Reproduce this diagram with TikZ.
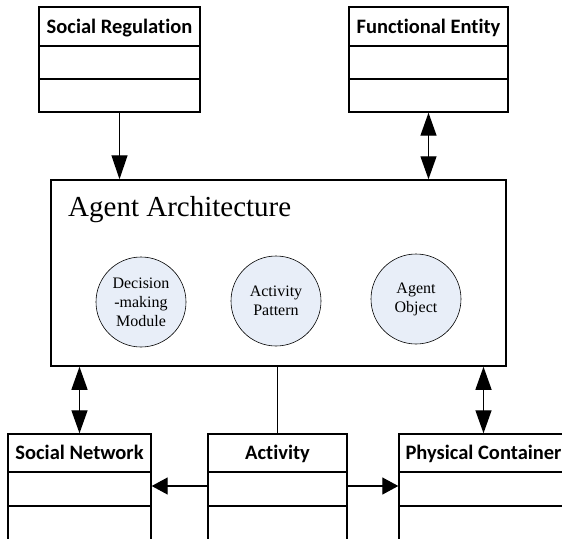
\documentclass[tikz,border=0pt]{standalone}
\usepackage{fontspec}
\newfontfamily\hdrfont{Carlito}[Ligatures=NoCommon]
\newfontfamily\serffont{Liberation Serif}
\usetikzlibrary{arrows.meta}
\definecolor{circfill}{RGB}{232,238,248}
\begin{document}
\begin{tikzpicture}[x=1pt,y=-1pt,
  hdr/.style={draw, line width=1.4pt, rectangle, inner sep=0pt,
    font=\hdrfont\bfseries\fontsize{20.5}{24}\selectfont, text height=13.2pt, text depth=0pt},
  cmp/.style={draw, line width=1.4pt, rectangle, inner sep=0pt},
  circ/.style={draw, line width=0.6pt, circle, fill=circfill, minimum size=90pt, inner sep=0pt,
    align=center, font=\serffont\fontsize{16}{19}\selectfont},
  arr/.style={line width=1.3pt, -{Triangle[length=24pt,width=16pt]}},
  darr/.style={line width=1.3pt, {Triangle[length=23pt,width=16pt]}-{Triangle[length=23pt,width=16pt]}},
  harr/.style={line width=1.3pt, -{Triangle[length=16pt,width=17pt]}}
]
\useasboundingbox (0,0) rectangle (562,538);
\clip (0,0) rectangle (562,538);

% top boxes
\node[hdr, minimum width=161pt, minimum height=39pt] (sr) at (119.5,26.5) {Social Regulation};
\node[cmp, minimum width=161pt, minimum height=33pt] (sr2) at (119.5,62.5) {};
\node[cmp, minimum width=161pt, minimum height=33pt] (sr3) at (119.5,95.5) {};

\node[hdr, minimum width=159pt, minimum height=39pt] (fe) at (428.5,26.5) {Functional Entity};
\node[cmp, minimum width=159pt, minimum height=33pt] (fe2) at (428.5,62.5) {};
\node[cmp, minimum width=159pt, minimum height=33pt] (fe3) at (428.5,95.5) {};

% main box
\node[draw, line width=1.5pt, rectangle, minimum width=455pt, minimum height=186pt, inner sep=0pt] (main) at (278.5,273) {};
\node[anchor=base west, inner sep=0pt, font=\serffont\fontsize{29}{33}\selectfont] (title) at (68,216) {Agent Architecture};
\node[circ] (dm) at (141,302) {Decision\\-making\\Module};
\node[circ] (ap) at (276,301) {Activity\\Pattern};
\node[circ] (ao) at (416,299) {Agent\\Object};

% bottom boxes
\node[hdr, minimum width=143pt, minimum height=38pt] (sn) at (79.5,453) {Social Network};
\node[cmp, minimum width=143pt, minimum height=34pt] (sn2) at (79.5,489) {};
\node[cmp, minimum width=143pt, minimum height=40pt] (sn3) at (79.5,526) {};

\node[hdr, minimum width=139pt, minimum height=38pt] (act) at (277.5,453) {Activity};
\node[cmp, minimum width=139pt, minimum height=34pt] (act2) at (277.5,489) {};
\node[cmp, minimum width=139pt, minimum height=40pt] (act3) at (277.5,526) {};

\node[hdr, minimum width=169pt, minimum height=38pt] (pc) at (483.5,453) {Physical Container};
\node[cmp, minimum width=169pt, minimum height=34pt] (pc2) at (483.5,489) {};
\node[cmp, minimum width=169pt, minimum height=40pt] (pc3) at (483.5,526) {};

% connectors
\draw[arr] (sr3.south) -- (sr3.south |- main.north);
\draw[darr] (fe3.south) -- (fe3.south |- main.north);
\draw[darr] (main.south -| sn.north) -- (sn.north);
\draw[line width=1.3pt] (main.south -| act.north) -- (act.north);
\draw[darr] (main.south -| pc.north) -- (pc.north);
\draw[harr] ([yshift=3pt]act2.west) -- ([yshift=3pt]sn2.east);
\draw[harr] ([yshift=3pt]act2.east) -- ([yshift=3pt]pc2.west);
\end{tikzpicture}
\end{document}
